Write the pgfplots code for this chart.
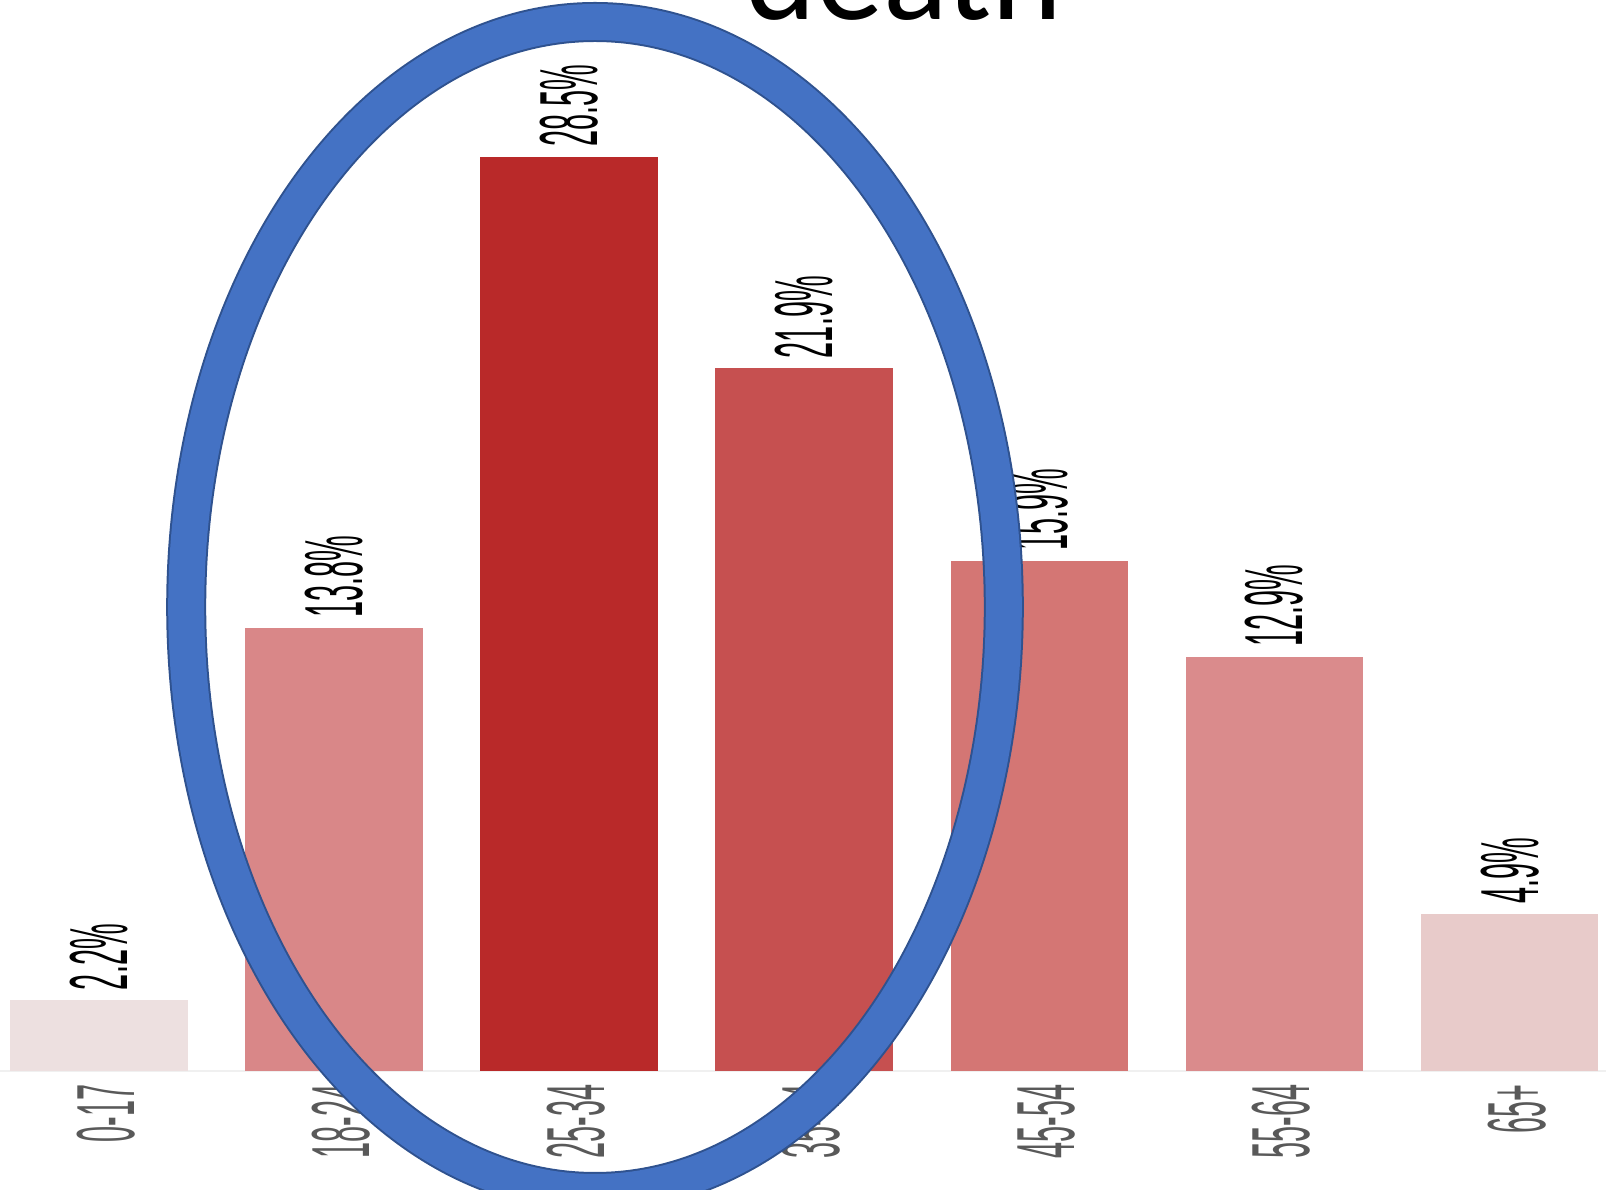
\documentclass[border=0pt]{standalone}
\usepackage{pgfplots}
\pgfplotsset{compat=1.18}
\usepackage{graphicx}
\usepackage{fontspec}
\setmainfont{Liberation Sans}
\newfontfamily\titlefont{Carlito}

% bar shades, lightest to darkest
\definecolor{shadeA}{HTML}{EDE0E0}
\definecolor{shadeB}{HTML}{D98788}
\definecolor{shadeC}{HTML}{B92929}
\definecolor{shadeD}{HTML}{C65050}
\definecolor{shadeE}{HTML}{D47674}
\definecolor{shadeF}{HTML}{DA8B8C}
\definecolor{shadeG}{HTML}{E8CBCA}
\definecolor{ring}{HTML}{4472C4}
\definecolor{ringedge}{HTML}{2F528F}
\definecolor{ticktext}{HTML}{595959}

% narrow, tall lettering for the rotated labels
\newcommand\squeeze[1]{\scalebox{0.35}[1]{#1}}
\newcommand\labelfont{\fontsize{20.6}{24}\selectfont}

\begin{document}
\begin{tikzpicture}
\useasboundingbox (0,0) rectangle (401.5pt,297.25pt);
\clip (0,0) rectangle (401.5pt,297.25pt);
\begin{axis}[
  at={(0pt,29.5pt)}, anchor=south west,
  scale only axis, width=401.5pt, height=267.75pt,
  xmin=-0.4202, xmax=6.4096, ymin=0, ymax=33.385,
  ybar, bar width=44.4pt,
  axis x line*=bottom, hide y axis,
  x axis line style={-, draw=black!6, line width=0.6pt},
  xtick={0,1,2,3,4,5,6},
  xticklabels={\squeeze{0-17},\squeeze{18-24},\squeeze{25-34},\squeeze{35-44},\squeeze{45-54},\squeeze{55-64},\squeeze{65+}},
  major tick length=0pt,
  xticklabel style={font=\labelfont, text=ticktext, xshift=1.75pt, yshift=-3.25pt, rotate=90, anchor=east, inner sep=0pt},
  nodes near coords={\squeeze{\pgfmathprintnumber[assume math mode=true,fixed,fixed zerofill,precision=1]{\pgfplotspointmeta}\%}},
  every node near coord/.append style={font=\labelfont, text=black, rotate=90, anchor=west, inner xsep=2.4pt, inner ysep=0pt},
]
\addplot[fill=shadeA, draw=none, bar shift=0pt] coordinates {(0,2.2)};
\addplot[fill=shadeB, draw=none, bar shift=0pt] coordinates {(1,13.8)};
\addplot[fill=shadeC, draw=none, bar shift=0pt] coordinates {(2,28.5)};
\addplot[fill=shadeD, draw=none, bar shift=0pt] coordinates {(3,21.9)};
\addplot[fill=shadeE, draw=none, bar shift=0pt] coordinates {(4,15.9)};
\addplot[fill=shadeF, draw=none, bar shift=0pt] coordinates {(5,12.9)};
\addplot[fill=shadeG, draw=none, bar shift=0pt] coordinates {(6,4.9)};
\end{axis}
% highlight ring around the younger adult groups
\draw[ringedge, line width=10pt] (148.75pt,145.5pt) ellipse [x radius=102.2pt, y radius=146.25pt];
\draw[ring, line width=9pt] (148.75pt,145.5pt) ellipse [x radius=102.2pt, y radius=146.25pt];
\node[font=\titlefont\fontsize{33.75}{40}\selectfont, anchor=base, inner sep=0pt] at (226pt,292.25pt) {death};
\end{tikzpicture}
\end{document}
